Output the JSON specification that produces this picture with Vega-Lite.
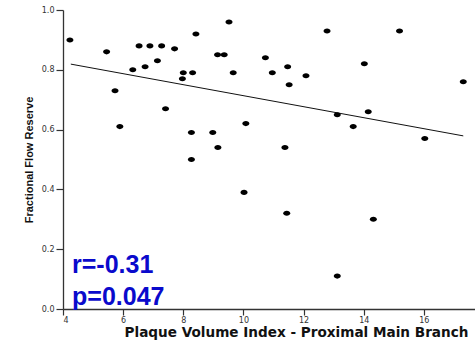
{
  "$schema": "https://vega.github.io/schema/vega-lite/v6.json",
  "autosize": {"type": "none"},
  "padding": {"left": 63, "top": 10, "right": 0, "bottom": 33},
  "width": 412,
  "height": 299,
  "background": "white",
  "config": {
    "view": {"stroke": null},
    "axis": {"grid": false, "domainColor": "#333333", "tickColor": "#333333", "domainWidth": 1.3, "tickWidth": 1.2,
             "labelFont": "DejaVu Sans", "labelFontSize": 8, "labelColor": "#333333",
             "titleFontWeight": "bold", "titleColor": "#111111"}
  },
  "datasets": {
    "patients": [
      {"pvi": 4.23, "ffr": 0.90}, {"pvi": 5.45, "ffr": 0.86}, {"pvi": 5.73, "ffr": 0.73},
      {"pvi": 5.89, "ffr": 0.61}, {"pvi": 6.32, "ffr": 0.80}, {"pvi": 6.53, "ffr": 0.88},
      {"pvi": 6.73, "ffr": 0.81}, {"pvi": 6.89, "ffr": 0.88}, {"pvi": 7.14, "ffr": 0.83},
      {"pvi": 7.28, "ffr": 0.88}, {"pvi": 7.41, "ffr": 0.67}, {"pvi": 7.71, "ffr": 0.87},
      {"pvi": 7.97, "ffr": 0.77}, {"pvi": 8.0, "ffr": 0.79}, {"pvi": 8.31, "ffr": 0.79},
      {"pvi": 8.27, "ffr": 0.59}, {"pvi": 8.27, "ffr": 0.50}, {"pvi": 8.42, "ffr": 0.92},
      {"pvi": 8.98, "ffr": 0.59}, {"pvi": 9.14, "ffr": 0.85}, {"pvi": 9.15, "ffr": 0.54},
      {"pvi": 9.36, "ffr": 0.85}, {"pvi": 9.52, "ffr": 0.96}, {"pvi": 9.66, "ffr": 0.79},
      {"pvi": 10.02, "ffr": 0.39}, {"pvi": 10.08, "ffr": 0.62}, {"pvi": 10.73, "ffr": 0.84},
      {"pvi": 10.96, "ffr": 0.79}, {"pvi": 11.38, "ffr": 0.54}, {"pvi": 11.44, "ffr": 0.32},
      {"pvi": 11.47, "ffr": 0.81}, {"pvi": 11.52, "ffr": 0.75}, {"pvi": 12.08, "ffr": 0.78},
      {"pvi": 12.78, "ffr": 0.93}, {"pvi": 13.12, "ffr": 0.65}, {"pvi": 13.12, "ffr": 0.11},
      {"pvi": 13.65, "ffr": 0.61}, {"pvi": 14.02, "ffr": 0.82}, {"pvi": 14.15, "ffr": 0.66},
      {"pvi": 14.32, "ffr": 0.30}, {"pvi": 15.19, "ffr": 0.93}, {"pvi": 16.03, "ffr": 0.57},
      {"pvi": 17.31, "ffr": 0.76}
    ],
    "fit": [
      {"pvi": 4.26, "ffr": 0.819},
      {"pvi": 17.31, "ffr": 0.579}
    ],
    "stats": [
      {"label": "r=-0.31", "pvi": 4.3, "ffr": 0.12},
      {"label": "p=0.047", "pvi": 4.3, "ffr": 0.013}
    ]
  },
  "encoding": {
    "x": {"field": "pvi", "type": "quantitative",
          "scale": {"domain": [4, 17.7], "nice": false, "zero": false},
          "axis": {"values": [4, 6, 8, 10, 12, 14, 16], "tickSize": 6, "labelPadding": 1,
                   "title": "Plaque Volume Index - Proximal Main Branch",
                   "titleFont": "DejaVu Sans", "titleFontSize": 13.6,
                   "titleX": 233, "titleY": 27, "titleBaseline": "alphabetic", "titleAlign": "center"}},
    "y": {"field": "ffr", "type": "quantitative",
          "scale": {"domain": [0, 1], "nice": false},
          "axis": {"values": [0, 0.2, 0.4, 0.6, 0.8, 1.0], "format": ".1f", "tickSize": 7, "labelPadding": 2,
                   "title": "Fractional Flow Reserve",
                   "titleFont": "Liberation Sans", "titleFontSize": 11,
                   "titleX": -31, "titleY": 149.5, "titleAngle": 270, "titleBaseline": "alphabetic", "titleAlign": "center"}}
  },
  "layer": [
    {
      "data": {"values": [{}]},
      "mark": {"type": "rect", "color": "#FFF2D8"},
      "encoding": {
        "x": {"datum": 3.63}, "x2": {"datum": 6.13},
        "y": {"datum": 1.0333}, "y2": {"datum": 1.02}
      }
    },
    {
      "data": {"values": [{}]},
      "mark": {"type": "rule", "color": "#777777", "strokeWidth": 1.5},
      "encoding": {"y": {"datum": 1}}
    },
    {
      "data": {"name": "fit"},
      "mark": {"type": "line", "color": "#111111", "strokeWidth": 1}
    },
    {
      "data": {"name": "patients"},
      "mark": {"type": "point", "filled": true, "color": "#000000", "opacity": 1, "size": 49,
               "shape": "M-1,0A1,0.72,0,1,0,1,0A1,0.72,0,1,0,-1,0Z"}
    },
    {
      "data": {"name": "stats"},
      "mark": {"type": "text", "align": "left", "baseline": "alphabetic",
               "font": "Liberation Sans", "fontWeight": "bold", "fontSize": 25, "color": "#0A0ACC"},
      "encoding": {"text": {"field": "label"}}
    }
  ]
}
